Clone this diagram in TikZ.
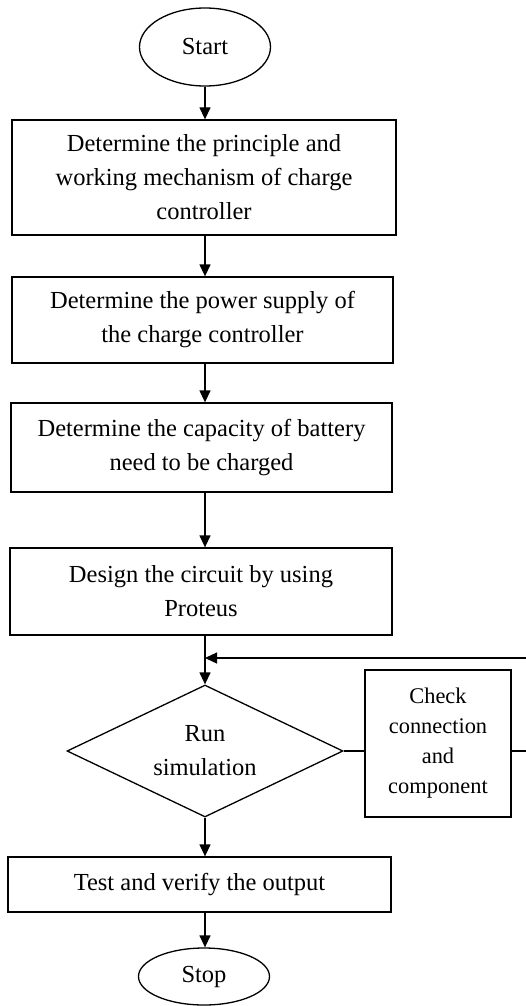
\documentclass[tikz,border=0pt]{standalone}
\usepackage{fontspec}
\setmainfont{Liberation Serif}
\usetikzlibrary{shapes.geometric,arrows.meta}
\begin{document}
\begin{tikzpicture}[x=1pt,y=-1pt,
  every node/.style={inner sep=0pt, align=center, font=\fontsize{24.5}{34}\selectfont},
  box/.style={draw, line width=1.3pt, rectangle},
  term/.style={draw, line width=1.3pt, ellipse},
  arr/.style={line width=1.3pt, -{Triangle[length=12pt,width=11pt]}},
  ln/.style={line width=1.3pt}]
\useasboundingbox (0,0) rectangle (526,1006);
\clip (0,0) rectangle (526,1006);
\node[term, minimum width=131pt, minimum height=78pt] (start) at (205,47) {Start};
\node[box, minimum width=384pt, minimum height=115pt] (b1) at (204,177.5) {Determine the principle and\\working mechanism of charge\\controller};
\node[box, minimum width=381pt, minimum height=86pt] (b2) at (202.5,320) {Determine the power supply of\\the charge controller};
\node[box, minimum width=381pt, minimum height=89pt] (b3) at (201.5,447.5) {Determine the capacity of battery\\need to be charged};
\node[box, minimum width=382pt, minimum height=87pt] (b4) at (201,591.5) {Design the circuit by using\\Proteus};
\node[draw, diamond, line width=1.3pt, minimum width=276pt, minimum height=132pt, aspect=2.09] (dia) at (205,751) {Run\\simulation};
\node[box, minimum width=146pt, minimum height=147pt, font=\fontsize{22.4}{30}\selectfont] (chk) at (438,743.5) {Check\\connection\\and\\component};
\node[box, minimum width=383pt, minimum height=55pt] (test) at (199.5,884.5) {Test and verify the output};
\node[term, minimum width=131pt, minimum height=57pt] (stop) at (204,976.5) {Stop};
\coordinate (fb) at (205,658);
\coordinate (far) at (545,751);
\draw[arr] (start.south) -- (b1.north -| start.south);
\draw[arr] (b1.south -| start.south) -- (b2.north -| start.south);
\draw[arr] (b2.south -| start.south) -- (b3.north -| start.south);
\draw[arr] (b3.south -| start.south) -- (b4.north -| start.south);
\draw[arr] (b4.south -| dia.north) -- (dia.north);
\draw[ln] (dia.east) -- (dia.east -| chk.west);
\draw[arr] (dia.east -| chk.east) -- (far) |- (fb);
\draw[arr] (dia.south) -- (test.north -| dia.south);
\draw[arr] (test.south -| dia.south) -- (stop.north -| dia.south);
\end{tikzpicture}
\end{document}
